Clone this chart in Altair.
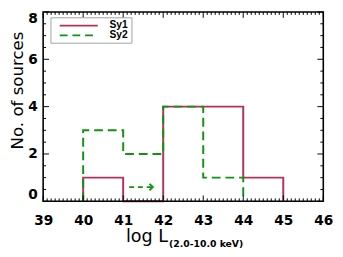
import altair as alt
import pandas as pd
import numpy as np

# ---- data ----
bin_edges = [40, 41, 42, 43, 44, 45]
sy1_counts = [1, 0, 4, 4, 1]
sy2_counts = [3, 2, 4, 1]
series = ["Sy1", "Sy2"]
colors = ["#b3325a", "#0f940f"]
x_ticks = [39, 40, 41, 42, 43, 44, 45, 46]
y_ticks = [0, 2, 4, 6, 8]
arrow_x = [41.15, 41.74]
arrow_y = [0.6, 0.6]
x_title_main = "log L"
x_title_sub = "(2.0-10.0 keV)"
y_title = "No. of sources"

W, H = 287, 194
TL, TS = 6, 3  # major / minor tick length (px)


def step_path(edges, counts, name):
    pts = [(edges[0], 0)]
    for i, c in enumerate(counts):
        pts.append((edges[i], c))
        pts.append((edges[i + 1], c))
    pts.append((edges[len(counts)], 0))
    return pd.DataFrame({"x": [p[0] for p in pts], "y": [p[1] for p in pts],
                         "i": list(range(len(pts))), "s": name})


xs = alt.Scale(domain=[39, 46], nice=False, zero=False)
ys = alt.Scale(domain=[0, 8], nice=False, zero=False)
xax = alt.Axis(values=x_ticks, format="d", ticks=False, domain=False, grid=False,
               labelFlush=False, labelPadding=13, title=None)
yax = alt.Axis(values=y_ticks, format="d", ticks=False, domain=False, grid=False,
               labelFlush=True, labelPadding=6, title=y_title, titlePadding=1, titleY=80)


def X(f):
    return alt.X(f, scale=xs, axis=xax)


def Y(f):
    return alt.Y(f, scale=ys, axis=yax)


d1 = step_path(bin_edges, sy1_counts, series[0])
d2 = step_path(bin_edges, sy2_counts, series[1])

sy1 = alt.Chart(d1).mark_line(color=colors[0], strokeWidth=2, strokeJoin="miter").encode(
    x=X("x:Q"), y=Y("y:Q"), order="i:Q")
sy2 = alt.Chart(d2).mark_line(color=colors[1], strokeWidth=2, strokeDash=[9, 5],
                              strokeJoin="miter").encode(
    x=X("x:Q"), y=Y("y:Q"), order="i:Q")

# arrow
arr = pd.DataFrame({"x": [arrow_x[0]], "x2": [arrow_x[1]], "y": [arrow_y[0]]})
shaft = alt.Chart(arr).mark_rule(color=colors[1], strokeWidth=2, strokeDash=[5, 4]).encode(
    x=X("x:Q"), x2="x2:Q", y=Y("y:Q"))
head = alt.Chart(pd.DataFrame({"x": [arrow_x[1]], "y": [arrow_y[1]]})).mark_point(
    shape="M-1,-1L0,0L-1,1", filled=False, stroke=colors[1], strokeWidth=2, size=45, opacity=1
).encode(x=X("x:Q"), y=Y("y:Q"))

# ticks (inward, on all four sides)
minor_x = [round(v, 1) for v in np.arange(39, 46.0001, 0.1) if abs(v - round(v)) > 1e-6]
minor_y = [v for v in np.arange(0, 8.0001, 0.5) if abs(v - round(v / 2) * 2) > 1e-6]
dxM = pd.DataFrame({"x": x_ticks})
dxm = pd.DataFrame({"x": minor_x})
dyM = pd.DataFrame({"y": y_ticks})
dym = pd.DataFrame({"y": minor_y})

tick_layers = []
for df, L in [(dxM, TL), (dxm, TS)]:
    for y0, y1 in [(H, H - L), (0, L)]:
        tick_layers.append(alt.Chart(df).mark_rule(color="black", strokeWidth=1).encode(
            x=X("x:Q"), y=alt.value(y0), y2=alt.value(y1)))
for df, L in [(dyM, TL), (dym, TS)]:
    for x0, x1 in [(0, L), (W, W - L)]:
        tick_layers.append(alt.Chart(df).mark_rule(color="black", strokeWidth=1).encode(
            y=Y("y:Q"), x=alt.value(x0), x2=alt.value(x1)))

one = pd.DataFrame({"a": [0]})
frame = alt.Chart(one).mark_rect(filled=False, stroke="black", strokeWidth=1.6).encode(
    x=alt.value(0), x2=alt.value(W), y=alt.value(0), y2=alt.value(H))

# legend
leg_box = alt.Chart(one).mark_rect(fill="white", stroke="#a0a0a0", strokeWidth=1).encode(
    x=alt.value(8), x2=alt.value(91), y=alt.value(6), y2=alt.value(32))
leg_l1 = alt.Chart(one).mark_rule(color=colors[0], strokeWidth=2).encode(
    x=alt.value(17), x2=alt.value(56), y=alt.value(14))
leg_l2 = alt.Chart(one).mark_rule(color=colors[1], strokeWidth=2, strokeDash=[8, 5]).encode(
    x=alt.value(17), x2=alt.value(56), y=alt.value(24))
leg_t1 = alt.Chart(pd.DataFrame({"t": [series[0]]})).mark_text(
    align="left", baseline="middle", font="Liberation Sans", fontWeight="bold", fontSize=10.5,
    color="black").encode(text="t:N", x=alt.value(68), y=alt.value(13.5))
leg_t2 = alt.Chart(pd.DataFrame({"t": [series[1]]})).mark_text(
    align="left", baseline="middle", font="Liberation Sans", fontWeight="bold", fontSize=10.5,
    color="black").encode(text="t:N", x=alt.value(68), y=alt.value(23.5))

# x title with subscript
xt1 = alt.Chart(pd.DataFrame({"t": [x_title_main]})).mark_text(
    align="right", baseline="alphabetic", font="DejaVu Sans", fontSize=18, color="black"
).encode(text="t:N", x=alt.value(128), y=alt.value(236))
xt2 = alt.Chart(pd.DataFrame({"t": [x_title_sub]})).mark_text(
    align="left", baseline="alphabetic", font="DejaVu Sans", fontWeight="bold", fontSize=9.5,
    color="black").encode(text="t:N", x=alt.value(129), y=alt.value(241))

chart = alt.layer(
    sy1, sy2, shaft, head, *tick_layers, frame, leg_box, leg_l1, leg_l2, leg_t1, leg_t2, xt1, xt2
).properties(
    width=W, height=H,
    autosize=alt.AutoSizeParams(type="none"),
    padding={"left": 36, "top": 1, "right": 12, "bottom": 54},
    background="white",
).configure_view(stroke=None).configure_axis(
    labelFont="DejaVu Sans", labelFontWeight="bold", labelFontSize=14, labelColor="black",
    titleFont="DejaVu Sans", titleFontWeight="normal", titleFontSize=17, titleColor="black",
)

chart.save("out.html", embed_options={"renderer": "svg", "actions": False})
